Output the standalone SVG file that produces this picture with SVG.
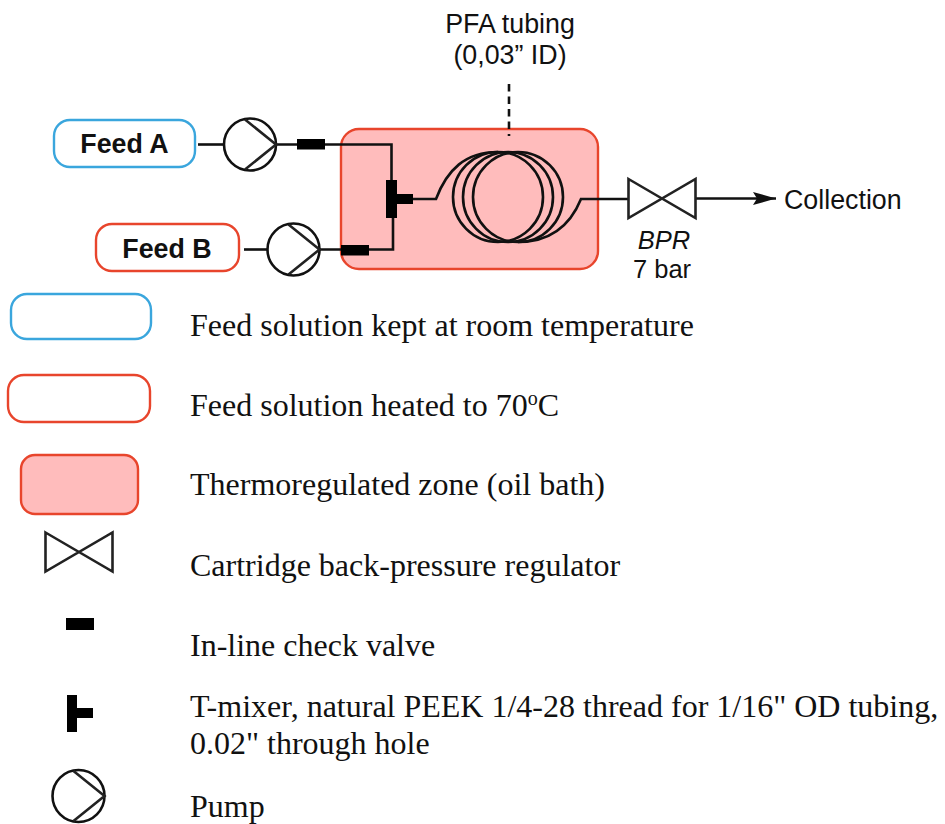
<svg xmlns="http://www.w3.org/2000/svg" width="945" height="824" viewBox="0 0 945 824">
<style>
.ln{fill:none;stroke:#111;stroke-width:2.6}
.sym{fill:none;stroke:#222;stroke-width:2.6;stroke-linejoin:miter}
.blk{fill:#000;stroke:none}
.bl{fill:#fff;stroke:#3aa6dd;stroke-width:2.4}
.rd{fill:#fff;stroke:#e8452c;stroke-width:2.4}
.zone{fill:#ffbcbc;stroke:#e8452c;stroke-width:2.4}
.s{font-family:"Liberation Sans",Arial,sans-serif;font-size:26.800px;fill:#111}
.b{font-family:"Liberation Sans",Arial,sans-serif;font-size:26.800px;font-weight:bold;fill:#111;text-anchor:middle}
.t{font-family:"Liberation Serif","Times New Roman",serif;font-size:32px;fill:#111}
</style>
<defs>
<g id="pump"><circle r="26" cx="0" cy="0" fill="none" stroke="#111" stroke-width="2.6"/><path class="sym" d="M-5,-25 L26,0 L-5,25"/></g>
<path id="bpr" class="sym" d="M-33.500,-19.500 L33.500,19.500 V-19.500 L-33.500,19.500 Z"/>
<marker id="ah" markerUnits="userSpaceOnUse" markerWidth="24" markerHeight="14" refX="23" refY="6.500" orient="auto"><path d="M0,0 L23,6.500 L0,13 L4,6.500 Z" fill="#111"/></marker>
</defs>
<g id="zone-main"><rect class="zone" x="341" y="129" width="257" height="140" rx="18"/></g>
<g id="connectors">
<path class="ln" d="M198,144.500 H223"/>
<path class="ln" d="M276,144.500 H391.500 V182"/>
<path class="ln" d="M244,249.500 H268"/>
<path class="ln" d="M319,249.500 H393 V216"/>
<path class="ln" d="M413,199 H436 C447,170 465,152 498,152"/>
<path class="ln" d="M518,242 C551,242 570,226 581,199 H628"/>
<path class="ln" d="M696,198.500 H776" marker-end="url(#ah)"/>
<path class="ln" d="M509,84 V136" stroke-dasharray="7.500 5"/>
</g>
<g id="coil" fill="none" stroke="#111" stroke-width="2.6">
<circle cx="498" cy="197" r="45"/>
<circle cx="508" cy="197" r="45"/>
<circle cx="518" cy="197" r="45"/>
</g>
<g id="feed-a"><rect class="bl" x="54" y="120" width="141" height="47" rx="16"/><text class="b" x="124.500" y="153">Feed A</text></g>
<g id="feed-b"><rect class="rd" x="96" y="224" width="143" height="47" rx="16"/><text class="b" x="167" y="258">Feed B</text></g>
<g id="pump-a"><use href="#pump" x="250" y="144.500"/></g>
<g id="pump-b"><use href="#pump" x="293.500" y="249.500"/></g>
<g id="valve-a"><rect class="blk" x="297" y="139" width="28" height="10.500"/></g>
<g id="valve-b"><rect class="blk" x="341" y="245" width="28" height="10.500"/></g>
<g id="mixer"><path class="blk" d="M386,180 H397 V194 H413 V204 H397 V218 H386 Z"/></g>
<g id="bpr-main"><use href="#bpr" x="662" y="198.500"/></g>
<g id="labels">
<text class="s" x="510" y="33" text-anchor="middle">PFA tubing</text>
<text class="s" x="510" y="64" text-anchor="middle">(0,03” ID)</text>
<text class="s" x="784" y="209">Collection</text>
<text class="s" x="664" y="248.500" text-anchor="middle" font-style="italic" style="font-size:25.500px">BPR</text>
<text class="s" x="662" y="277.500" text-anchor="middle" style="font-size:25.500px">7 bar</text>
</g>
<g id="legend-room"><rect class="bl" x="11" y="294" width="140" height="45" rx="16"/><text class="t" x="190" y="336">Feed solution kept at room temperature</text></g>
<g id="legend-heated"><rect class="rd" x="8" y="375" width="142" height="47" rx="16"/><text class="t" x="190" y="416">Feed solution heated to 70<tspan font-size="20" dy="-11">o</tspan><tspan dy="11">C</tspan></text></g>
<g id="legend-zone"><rect class="zone" x="21" y="455" width="117" height="59" rx="14"/><text class="t" x="190" y="495">Thermoregulated zone (oil bath)</text></g>
<g id="legend-bpr"><use href="#bpr" x="79" y="552"/><text class="t" x="190" y="576">Cartridge back-pressure regulator</text></g>
<g id="legend-valve"><rect class="blk" x="66" y="618" width="28" height="12"/><text class="t" x="190" y="656">In-line check valve</text></g>
<g id="legend-mixer"><path class="blk" d="M67,695 H77 V708 H93 V718 H77 V732 H67 Z"/><text class="t" x="190" y="717">T-mixer, natural PEEK 1/4-28 thread for 1/16" OD tubing,</text><text class="t" x="190" y="754">0.02" through hole</text></g>
<g id="legend-pump"><use href="#pump" x="78.500" y="796"/><text class="t" x="190" y="817">Pump</text></g>
</svg>
